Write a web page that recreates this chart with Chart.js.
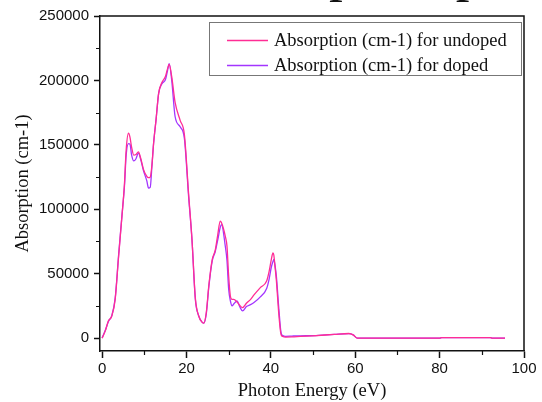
<!DOCTYPE html>
<html>
<head>
<meta charset="utf-8">
<script src="https://cdn.jsdelivr.net/npm/chart.js@4.4.1/dist/chart.umd.min.js"></script>
<style>
  html, body { margin: 0; padding: 0; background: #fff; }
  #wrap { width: 542px; height: 402px; position: relative; }
</style>
</head>
<body>
<div id="wrap"><canvas id="absorption"></canvas></div>
<script>
/*************************** data ***************************/
const energy = [0, 0.8, 1.5, 2.3, 3.1, 3.9, 4.7, 5.3, 5.7, 6.25, 6.6, 7.0, 7.5, 8.0, 8.6, 9.2, 9.8,
    10.6, 11.0, 11.4, 11.8, 12.2, 12.8, 13.4, 14.2, 15.0, 15.5, 15.9, 16.5, 17.3, 18.5, 19.5,
    20.5, 21.3, 22.1, 22.9, 23.8, 24.1, 24.7, 25.3, 26.1, 26.8, 27.4, 28.0, 28.3, 29.2, 29.6,
    30.0, 30.4, 30.8, 31.2, 32.0, 32.6, 33.3, 34.2, 35.2, 36.0, 37.5, 39.0, 39.6, 40.1, 40.5,
    40.7, 41.0, 41.3, 41.9, 42.4, 42.8, 43.5, 45.0, 47.0, 50.0, 55.0, 58.5, 59.5, 60.5,
    70.0, 80.0, 80.5, 92.0, 92.5, 95.5];

const undoped = [0, 6000, 13400, 17200, 30100, 63000, 94500, 120000, 146000, 159000, 156000, 148000, 142000, 142500, 144500, 139000, 131000,
    125500, 124500, 125000, 134000, 151000, 170000, 190000, 198500, 203000, 209000, 212500, 203000, 183000, 169000, 158000,
    112000, 76500, 31000, 17200, 12000, 11600, 20000, 41000, 61000, 68000, 80000, 90700, 89500, 79000, 71300,
    48000, 32700, 30000, 30100, 28000, 25500, 23700, 27000, 30100, 33500, 39200, 44300, 52000, 61000, 66200,
    64500, 55000, 45000, 18000, 3000, 1300, 800, 900, 1300, 1800, 2900, 3600, 2500, 0,
    0, 0, 400, 400, 0, 0];

const doped = [0, 6500, 13000, 17500, 31000, 64000, 95000, 118000, 142000, 151000, 150500, 142000, 137500, 139000, 143500, 138000, 130000,
    122000, 116500, 117000, 133000, 151000, 170000, 190000, 197500, 200500, 207500, 213000, 200000, 172000, 164000, 155000,
    110000, 76500, 30000, 17200, 12000, 11600, 19000, 40000, 60000, 67000, 76000, 86000, 88100, 71300, 60000,
    37900, 29000, 25000, 26500, 28800, 24500, 21100, 24500, 26000, 27600, 32000, 38500, 46000, 55000, 59500,
    61000, 56000, 48100, 22400, 4400, 2000, 1400, 1600, 1800, 1900, 2900, 3500, 2500, 0,
    0, 0, 400, 400, 0, 0];

const seriesNames = ['Absorption (cm-1) for undoped', 'Absorption (cm-1) for doped'];
const seriesColors = ['#ff2d95', '#a335ff'];

const xTicks = [0, 20, 40, 60, 80, 100];
const xMinor = [10, 30, 50, 70, 90];
const yTicks = [0, 50000, 100000, 150000, 200000, 250000];
const yMinor = [25000, 75000, 125000, 175000, 225000];

const serif = '"Liberation Serif", "Times New Roman", serif';
const sans = '"Liberation Sans", Arial, sans-serif';

/*********************** helpers ***********************/
const toPoints = (ys) => energy.map((x, i) => ({ x: x, y: ys[i] }));

// top/right frame, minor ticks, boxed legend, clipped heading
const framePlugin = {
    id: 'frame',
    afterDraw(chart) {
        const { ctx, chartArea: a, scales } = chart;
        ctx.save();
        ctx.strokeStyle = '#111';
        ctx.lineWidth = 1.5;
        ctx.beginPath();
        ctx.moveTo(a.left, a.top);
        ctx.lineTo(a.right, a.top);
        ctx.lineTo(a.right, a.bottom);
        ctx.stroke();

        // minor ticks
        ctx.lineWidth = 1.2;
        ctx.beginPath();
        xMinor.forEach(v => {
            const px = Math.round(scales.x.getPixelForValue(v)) + 0.5;
            ctx.moveTo(px, a.bottom);
            ctx.lineTo(px, a.bottom + 4);
        });
        yMinor.forEach(v => {
            const py = Math.round(scales.y.getPixelForValue(v)) + 0.5;
            ctx.moveTo(a.left, py);
            ctx.lineTo(a.left - 4, py);
        });
        ctx.stroke();

        // legend box
        ctx.lineWidth = 1;
        ctx.strokeStyle = '#777';
        ctx.strokeRect(209.5, 22.5, 312, 53);
        ctx.font = '18.5px ' + serif;
        ctx.fillStyle = '#111';
        ctx.textBaseline = 'middle';
        ctx.textAlign = 'left';
        chart.data.datasets.forEach((ds, i) => {
            const y = 40 + i * 25;
            ctx.strokeStyle = ds.borderColor;
            ctx.lineWidth = 1.3;
            ctx.beginPath();
            ctx.moveTo(227, y + 0.5);
            ctx.lineTo(268, y + 0.5);
            ctx.stroke();
            ctx.fillText(ds.label, 274, y + 1);
        });

        // heading, sitting above the canvas edge so only descenders show
        ctx.font = '55px ' + serif;
        ctx.textBaseline = 'alphabetic';
        ctx.textAlign = 'left';
        const heading = 'Absorption peaks';
        const x0 = 329 - ctx.measureText('Absor').width;
        ctx.fillText(heading, x0, -10);
        ctx.restore();
    }
};

/*********************** draw chart ***********************/
const ctx = document.getElementById('absorption');
const chart = new Chart(ctx, {
    type: 'line',
    data: {
        datasets: [{
            label: seriesNames[0],
            data: toPoints(undoped),
            borderColor: seriesColors[0],
            borderWidth: 1.3,
            pointRadius: 0,
            cubicInterpolationMode: 'monotone',
            fill: false
        }, {
            label: seriesNames[1],
            data: toPoints(doped),
            borderColor: seriesColors[1],
            borderWidth: 1.3,
            pointRadius: 0,
            cubicInterpolationMode: 'monotone',
            fill: false
        }]
    },
    options: {
        responsive: true,
        maintainAspectRatio: false,
        animation: false,
        layout: { padding: { top: 16, right: 18, left: 0, bottom: 0 } },
        plugins: {
            legend: { display: false },
            tooltip: { enabled: false }
        },
        scales: {
            x: {
                type: 'linear',
                min: -0.5,
                max: 100,
                afterBuildTicks: (s) => { s.ticks = xTicks.map(v => ({ value: v })); },
                afterFit: (s) => { s.height = 51; },
                border: { color: '#111', width: 1.5 },
                grid: { drawOnChartArea: false, tickLength: 7, tickColor: '#111', tickWidth: 1.5 },
                ticks: { color: '#111', font: { family: sans, size: 15 }, padding: 2, maxRotation: 0 },
                title: {
                    display: true,
                    text: 'Photon Energy (eV)',
                    color: '#111',
                    font: { family: serif, size: 18.5 },
                    padding: { top: 0, bottom: 0 }
                }
            },
            y: {
                min: -10000,
                max: 250000,
                afterBuildTicks: (s) => { s.ticks = yTicks.map(v => ({ value: v })); },
                afterFit: (s) => { s.width = 100; },
                border: { color: '#111', width: 1.5 },
                grid: { drawOnChartArea: false, tickLength: 6, tickColor: '#111', tickWidth: 1.5 },
                ticks: {
                    color: '#111',
                    font: { family: sans, size: 15 },
                    padding: 5,
                    callback: (v) => String(v)
                },
                title: {
                    display: true,
                    text: 'Absorption (cm-1)',
                    color: '#111',
                    font: { family: serif, size: 18.5 },
                    padding: { top: 12, bottom: 0 }
                }
            }
        }
    },
    plugins: [framePlugin]
});
</script>
</body>
</html>
